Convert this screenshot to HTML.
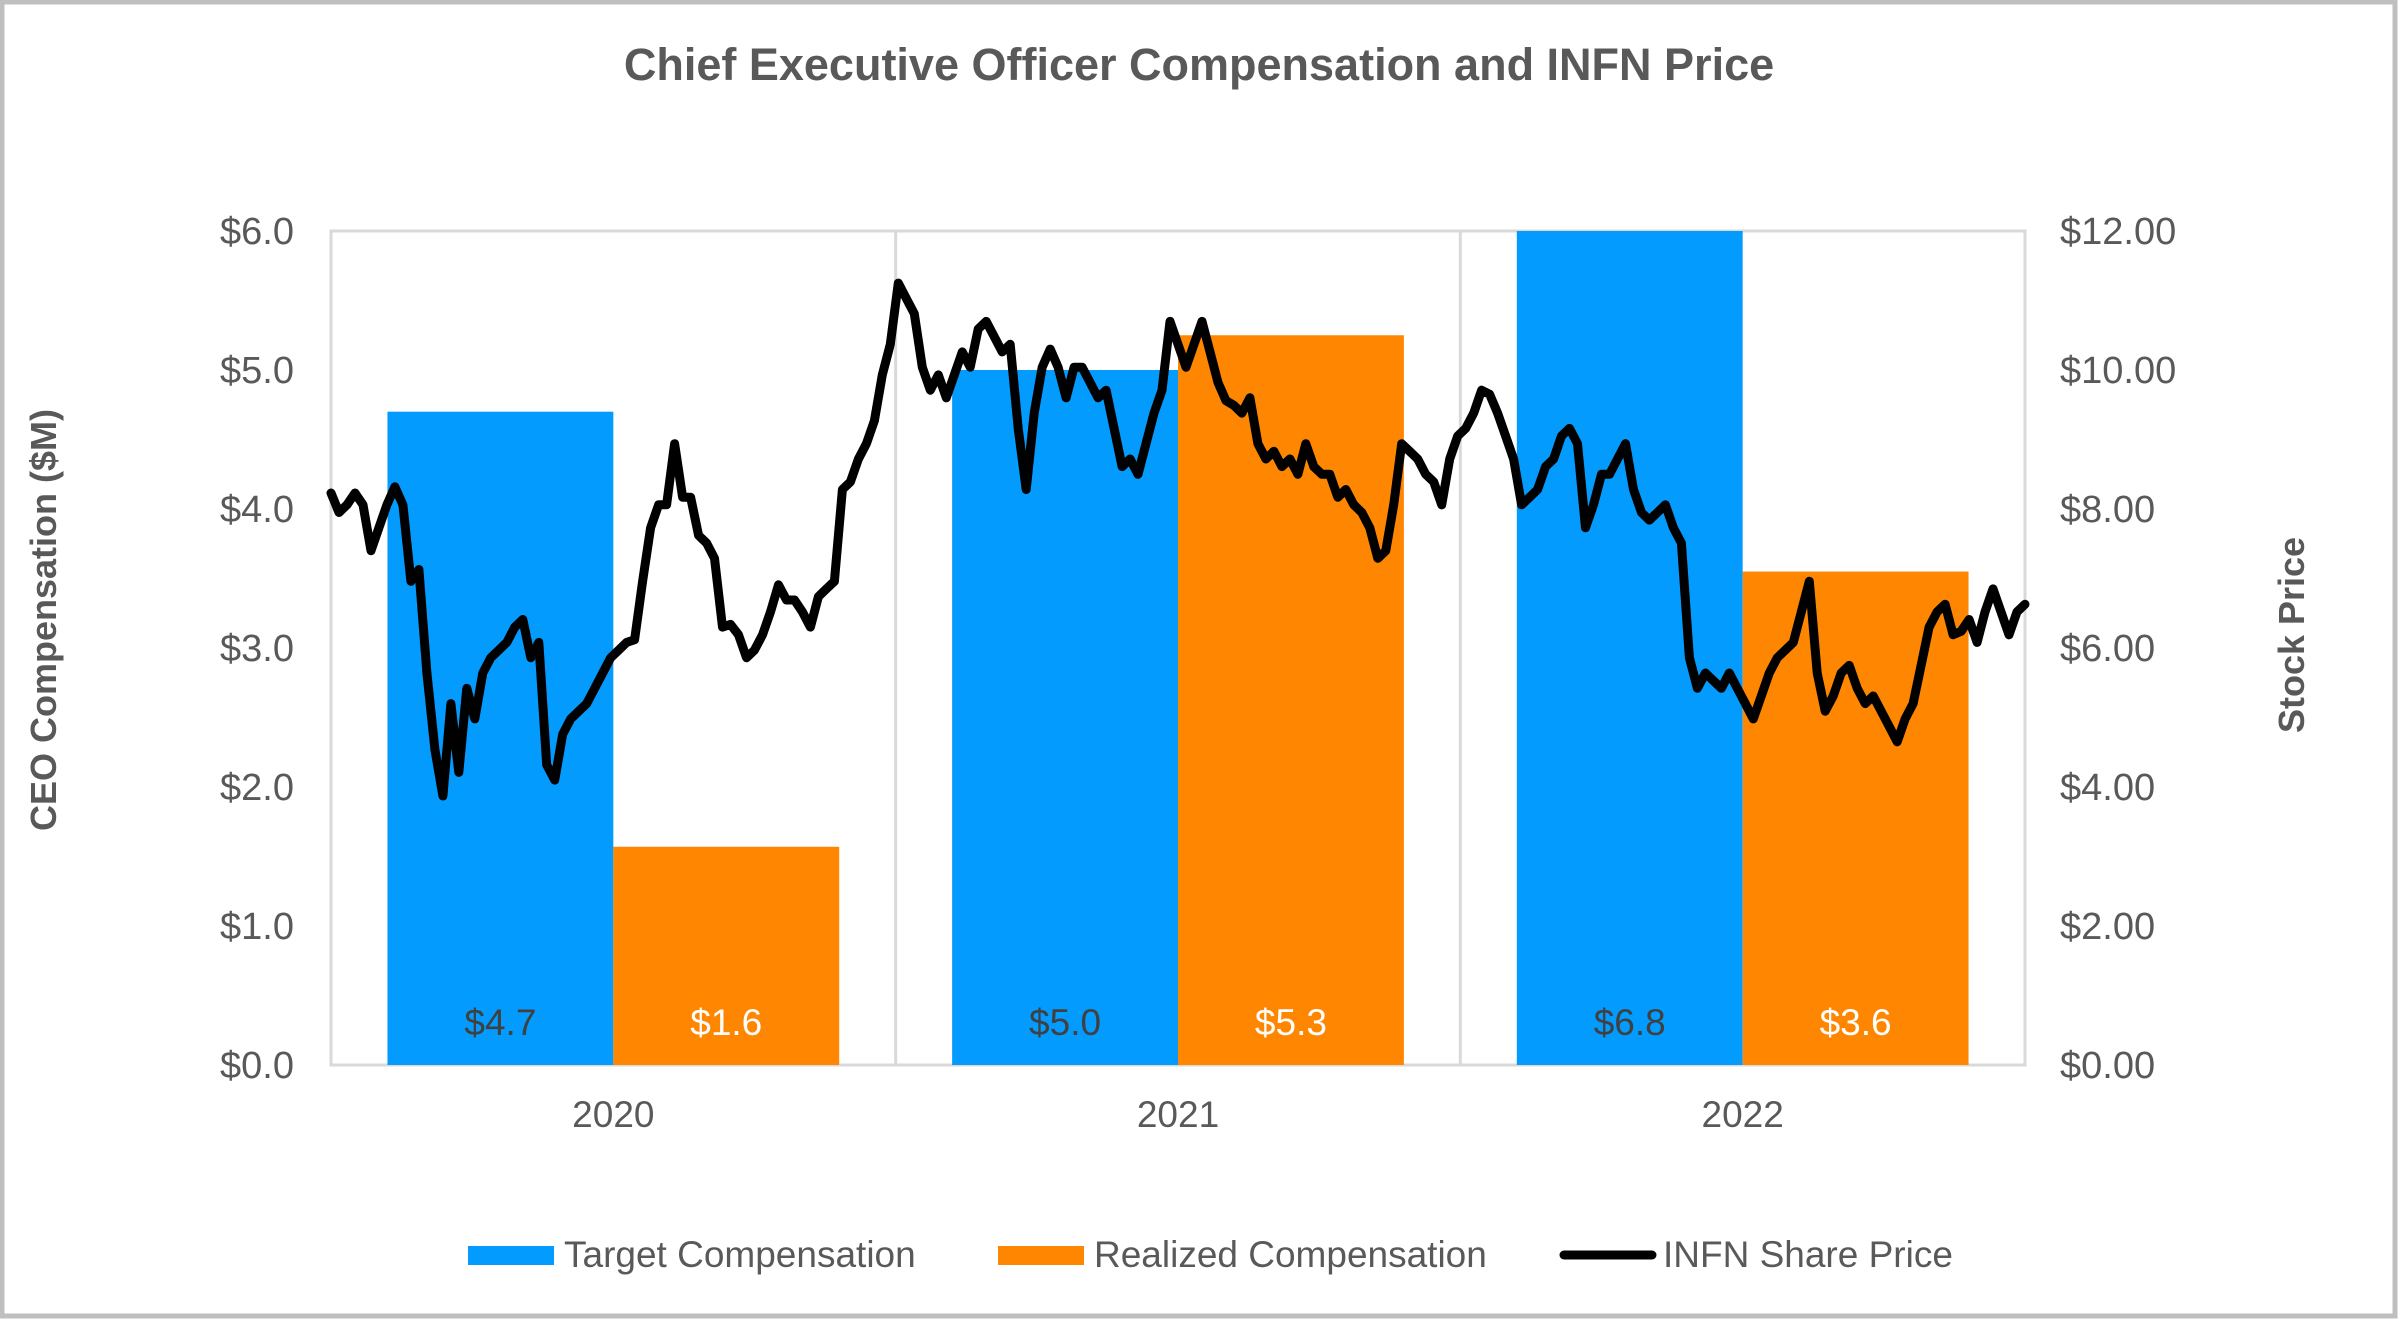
<!DOCTYPE html>
<html><head><meta charset="utf-8"><style>
html,body{margin:0;padding:0;background:#fff}
svg{display:block}
text{font-family:"Liberation Sans",Arial,sans-serif}
</style></head><body>
<svg id="chart" width="2400" height="1321" viewBox="0 0 2400 1321">
<rect x="2" y="2" width="2393" height="1314" fill="#fff" stroke="#bfbfbf" stroke-width="5"/>
<text x="1199" y="80" text-anchor="middle" font-size="45" font-weight="bold" fill="#595959">Chief Executive Officer Compensation and INFN Price</text>
<g id="plot"></g>
<text transform="translate(56,620) rotate(-90)" text-anchor="middle" font-size="36" font-weight="bold" fill="#595959">CEO Compensation ($M)</text>
<text transform="translate(2304,635) rotate(-90)" text-anchor="middle" font-size="36" font-weight="bold" fill="#595959">Stock Price</text>
<g>
<rect x="468" y="1246" width="86" height="19" fill="#039BFD"/>
<text x="564" y="1267" font-size="37" fill="#595959">Target Compensation</text>
<rect x="998" y="1246" width="86" height="19" fill="#FF8600"/>
<text x="1094" y="1267" font-size="37" fill="#595959">Realized Compensation</text>
<line x1="1564" y1="1255" x2="1652" y2="1255" stroke="#000" stroke-width="9" stroke-linecap="round"/>
<text x="1663" y="1267" font-size="37" fill="#595959">INFN Share Price</text>
</g>
</svg>
<script>
const categories = ["2020","2021","2022"];
const targetComp = [4.7, 5.0, 6.8];
const realizedComp = [1.57, 5.25, 3.55];
const targetLabels = ["$4.7","$5.0","$6.8"];
const realizedLabels = ["$1.6","$5.3","$3.6"];
const leftTicks = [0,1,2,3,4,5,6];
const leftTickLabels = ["$0.0","$1.0","$2.0","$3.0","$4.0","$5.0","$6.0"];
const rightTicks = [0,2,4,6,8,10,12];
const rightTickLabels = ["$0.00","$2.00","$4.00","$6.00","$8.00","$10.00","$12.00"];
const prices = [8.23,7.95,8.06,8.23,8.06,7.40,7.73,8.06,8.32,8.06,6.96,7.13,5.64,4.54,3.87,5.20,4.21,5.42,4.98,5.64,5.86,5.97,6.08,6.30,6.41,5.86,6.08,4.32,4.10,4.76,4.98,5.09,5.20,5.42,5.64,5.86,5.97,6.08,6.12,6.96,7.73,8.06,8.06,8.94,8.17,8.17,7.62,7.51,7.29,6.30,6.34,6.19,5.86,5.97,6.19,6.52,6.91,6.69,6.69,6.52,6.30,6.74,6.85,6.96,8.28,8.39,8.72,8.94,9.27,9.93,10.37,11.25,11.03,10.81,10.04,9.71,9.93,9.60,9.93,10.26,10.04,10.59,10.70,10.48,10.26,10.37,9.16,8.28,9.38,10.04,10.30,10.04,9.60,10.04,10.04,9.82,9.60,9.71,9.16,8.61,8.72,8.50,8.94,9.38,9.71,10.70,10.37,10.04,10.37,10.70,10.26,9.82,9.56,9.49,9.38,9.60,8.94,8.72,8.83,8.61,8.72,8.50,8.94,8.61,8.50,8.50,8.17,8.28,8.06,7.95,7.73,7.29,7.40,8.06,8.94,8.83,8.72,8.50,8.39,8.06,8.72,9.05,9.16,9.38,9.71,9.65,9.38,9.05,8.72,8.06,8.17,8.28,8.61,8.72,9.05,9.16,8.94,7.73,8.06,8.50,8.50,8.72,8.94,8.28,7.95,7.84,7.95,8.06,7.73,7.51,5.86,5.42,5.64,5.53,5.42,5.64,5.42,5.20,4.98,5.31,5.64,5.86,5.97,6.08,6.52,6.96,5.64,5.09,5.31,5.64,5.75,5.42,5.20,5.31,5.09,4.87,4.65,4.98,5.20,5.75,6.30,6.52,6.63,6.19,6.24,6.41,6.08,6.52,6.85,6.52,6.19,6.52,6.63];
const NS="http://www.w3.org/2000/svg";
const plot=document.getElementById('plot');
const L=331,R=2025,T=231,B=1065;
const yL=v=>B-(v/6)*(B-T);
const yR=v=>B-(v/12)*(B-T);
const cw=(R-L)/categories.length;
const bw=cw*0.4;
function mk(tag,attrs){const e=document.createElementNS(NS,tag);for(const k in attrs)e.setAttribute(k,attrs[k]);plot.appendChild(e);return e;}
const fr=mk('rect',{x:L,y:T,width:R-L,height:B-T,fill:'none',stroke:'#d9d9d9','stroke-width':3});


for(let i=1;i<categories.length;i++){
  const s=mk('line',{x1:L+cw*i,x2:L+cw*i,y1:T,y2:B,stroke:'#d9d9d9','stroke-width':3});
  
  
}
categories.forEach((c,i)=>{
  const cx=L+cw*i+cw/2;
  const tv=Math.min(targetComp[i],6), rv=Math.min(realizedComp[i],6);
  const b1=mk('rect',{x:cx-bw,y:yL(tv),width:bw,height:B-yL(tv),fill:'#039BFD'});
  
  
  const b2=mk('rect',{x:cx,y:yL(rv),width:bw,height:B-yL(rv),fill:'#FF8600'});
  
  
  const t1=mk('text',{x:cx-bw/2,y:1035,'text-anchor':'middle','font-size':37,fill:'#404040'});t1.textContent=targetLabels[i];
  
  
  const t2=mk('text',{x:cx+bw/2,y:1035,'text-anchor':'middle','font-size':37,fill:'#fff'});t2.textContent=realizedLabels[i];
  
  
  const xl=mk('text',{x:cx,y:1127,'text-anchor':'middle','font-size':37,fill:'#595959'});xl.textContent=c;
  
  
});
leftTicks.forEach((v,i)=>{
  const t=mk('text',{x:294,y:yL(v)+13,'text-anchor':'end','font-size':38,fill:'#595959'});t.textContent=leftTickLabels[i];
  
  
});
rightTicks.forEach((v,i)=>{
  const t=mk('text',{x:2060,y:yR(v)+13,'text-anchor':'start','font-size':38,fill:'#595959'});t.textContent=rightTickLabels[i];
  
  
});
const n=prices.length;
const pts=prices.map((p,i)=>(L+(R-L)*i/(n-1)).toFixed(1)+','+yR(p).toFixed(1)).join(' ');
const pl=mk('polyline',{points:pts,fill:'none',stroke:'#000','stroke-width':9,'stroke-linejoin':'round','stroke-linecap':'round'});


</script>
</body></html>
